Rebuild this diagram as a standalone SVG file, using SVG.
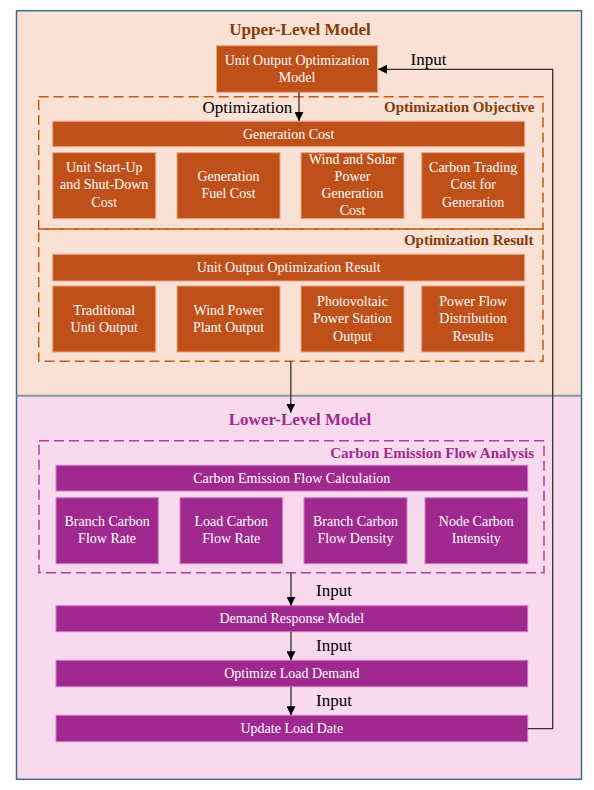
<svg xmlns="http://www.w3.org/2000/svg" width="594" height="790" viewBox="0 0 594 790">
<style>
  text { font-family: "Liberation Serif", "Times New Roman", serif; }
  .ob { fill: #C0501A; stroke: #EBA47F; stroke-width: 1; }
  .pb { fill: #A0298F; stroke: #D07CC3; stroke-width: 1; }
  .bt { fill: #FFFFFF; font-size: 14px; text-anchor: middle; }
  .h1u { fill: #843C0C; font-size: 17px; font-weight: bold; text-anchor: middle; }
  .h1l { fill: #A0298F; font-size: 17px; font-weight: bold; text-anchor: middle; }
  .h2u { fill: #843C0C; font-size: 15px; font-weight: bold; text-anchor: end; }
  .h2l { fill: #A0298F; font-size: 15px; font-weight: bold; text-anchor: end; }
  .lab { fill: #000000; font-size: 17px; }
  .dashu { fill: none; stroke: #C55A11; stroke-width: 1.5; stroke-dasharray: 10 5; }
  .dashl { fill: none; stroke: #B03FA0; stroke-width: 1.5; stroke-dasharray: 10 5; }
  .con { fill: none; stroke: #333333; stroke-width: 1.3; }
</style>
<defs>
  <marker id="ah" viewBox="0 0 10 10" refX="10" refY="5" markerWidth="9" markerHeight="9" markerUnits="userSpaceOnUse" orient="auto">
    <path d="M0,0 L10,5 L0,10 Z" fill="#000000"/>
  </marker>
</defs>

<!-- backgrounds -->
<g id="upper-level">
  <rect x="16.5" y="10.7" width="565" height="385" fill="#FAE1D5"/>
  <text class="h1u" x="300" y="34.5">Upper-Level Model</text>
</g>
<g id="lower-level">
  <rect x="16.5" y="395.7" width="565" height="383.6" fill="#F8D9EE"/>
  <text class="h1l" x="300" y="424.5">Lower-Level Model</text>
</g>
<rect x="16.5" y="10.7" width="565" height="768.6" fill="none" stroke="#3B6E8C" stroke-width="1.5"/>
<line x1="16.5" y1="395.7" x2="581.5" y2="395.7" stroke="#8497B0" stroke-width="2"/>

<!-- upper dashed groups -->
<g id="optimization-objective">
  <rect class="dashu" x="38.7" y="96.7" width="504.3" height="132.3"/>
  <text class="h2u" x="534.5" y="111.5">Optimization Objective</text>
</g>
<g id="optimization-result">
  <rect class="dashu" x="38.7" y="229" width="504.3" height="132.3"/>
  <text class="h2u" x="533.5" y="244.5">Optimization Result</text>
</g>

<g id="unit-output-model">
  <rect class="ob" x="216.5" y="45.7" width="161" height="46.6"/>
  <text class="bt" x="297" y="65">Unit Output Optimization</text>
  <text class="bt" x="297" y="81.7">Model</text>
</g>

<g id="generation-cost">
  <rect class="ob" x="52.7" y="121.3" width="472" height="25.4"/>
  <text class="bt" x="288.7" y="139">Generation Cost</text>
</g>
<g id="startup-cost">
  <rect class="ob" x="52.7" y="152.7" width="103" height="66"/>
  <text class="bt" x="104.2" y="172.3">Unit Start-Up</text>
  <text class="bt" x="104.2" y="189.3">and Shut-Down</text>
  <text class="bt" x="104.2" y="206.5">Cost</text>
</g>
<g id="fuel-cost">
  <rect class="ob" x="177" y="152.7" width="103" height="66"/>
  <text class="bt" x="228.5" y="180.5">Generation</text>
  <text class="bt" x="228.5" y="197.5">Fuel Cost</text>
</g>
<g id="wind-solar-cost">
  <rect class="ob" x="301" y="152.7" width="103" height="66"/>
  <text class="bt" x="352.5" y="163.5">Wind and Solar</text>
  <text class="bt" x="352.5" y="180.5">Power</text>
  <text class="bt" x="352.5" y="197.5">Generation</text>
  <text class="bt" x="352.5" y="214.5">Cost</text>
</g>
<g id="carbon-trading-cost">
  <rect class="ob" x="421.7" y="152.7" width="103" height="66"/>
  <text class="bt" x="473.2" y="172.3">Carbon Trading</text>
  <text class="bt" x="473.2" y="189.3">Cost for</text>
  <text class="bt" x="473.2" y="206.5">Generation</text>
</g>

<g id="unit-output-result">
  <rect class="ob" x="52.7" y="254.3" width="472" height="26.7"/>
  <text class="bt" x="288.7" y="271.7">Unit Output Optimization Result</text>
</g>
<g id="traditional-output">
  <rect class="ob" x="52.7" y="286" width="103" height="66"/>
  <text class="bt" x="104.2" y="315">Traditional</text>
  <text class="bt" x="104.2" y="332.3">Unti Output</text>
</g>
<g id="wind-output">
  <rect class="ob" x="177" y="286" width="103" height="66"/>
  <text class="bt" x="228.5" y="315">Wind Power</text>
  <text class="bt" x="228.5" y="332.3">Plant Output</text>
</g>
<g id="pv-output">
  <rect class="ob" x="301" y="286" width="103" height="66"/>
  <text class="bt" x="352.5" y="306">Photovoltaic</text>
  <text class="bt" x="352.5" y="323.3">Power Station</text>
  <text class="bt" x="352.5" y="340.6">Output</text>
</g>
<g id="power-flow-results">
  <rect class="ob" x="421.7" y="286" width="103" height="66"/>
  <text class="bt" x="473.2" y="306">Power Flow</text>
  <text class="bt" x="473.2" y="323.3">Distribution</text>
  <text class="bt" x="473.2" y="340.6">Results</text>
</g>

<!-- lower -->
<g id="carbon-emission-flow-analysis">
  <rect class="dashl" x="39" y="440.7" width="505" height="132"/>
  <text class="h2l" x="534" y="457.5">Carbon Emission Flow Analysis</text>
</g>
<g id="cef-calculation">
  <rect class="pb" x="56" y="465.3" width="471.7" height="25.7"/>
  <text class="bt" x="291.8" y="482.7">Carbon Emission Flow Calculation</text>
</g>
<g id="branch-flow-rate">
  <rect class="pb" x="56" y="497.7" width="102.3" height="66"/>
  <text class="bt" x="107.1" y="526">Branch Carbon</text>
  <text class="bt" x="107.1" y="543.3">Flow Rate</text>
</g>
<g id="load-flow-rate">
  <rect class="pb" x="180" y="497.7" width="102.6" height="66"/>
  <text class="bt" x="231.3" y="526">Load Carbon</text>
  <text class="bt" x="231.3" y="543.3">Flow Rate</text>
</g>
<g id="branch-flow-density">
  <rect class="pb" x="304" y="497.7" width="103" height="66"/>
  <text class="bt" x="355.5" y="526">Branch Carbon</text>
  <text class="bt" x="355.5" y="543.3">Flow Density</text>
</g>
<g id="node-intensity">
  <rect class="pb" x="425" y="497.7" width="102.7" height="66"/>
  <text class="bt" x="476.3" y="526">Node Carbon</text>
  <text class="bt" x="476.3" y="543.3">Intensity</text>
</g>
<g id="demand-response-model">
  <rect class="pb" x="56" y="605.7" width="471.7" height="26"/>
  <text class="bt" x="291.8" y="622.7">Demand Response Model</text>
</g>
<g id="optimize-load-demand">
  <rect class="pb" x="56" y="660.3" width="471.7" height="26.4"/>
  <text class="bt" x="291.8" y="677.5">Optimize Load Demand</text>
</g>
<g id="update-load-date">
  <rect class="pb" x="56" y="715.3" width="471.7" height="26.4"/>
  <text class="bt" x="291.8" y="732.5">Update Load Date</text>
</g>

<!-- connectors -->
<g id="connectors">
  <line class="con" x1="299" y1="92.3" x2="299" y2="121" marker-end="url(#ah)"/>
  <line class="con" x1="290.8" y1="361.3" x2="290.8" y2="412.7" marker-end="url(#ah)"/>
  <line class="con" x1="291" y1="572.7" x2="291" y2="605.7" marker-end="url(#ah)"/>
  <line class="con" x1="291" y1="631.7" x2="291" y2="660.3" marker-end="url(#ah)"/>
  <line class="con" x1="291" y1="686.7" x2="291" y2="715.3" marker-end="url(#ah)"/>
  <polyline class="con" points="527.7,728.7 552.7,728.7 552.7,69.3 378,69.3" marker-end="url(#ah)"/>
  <text class="lab" x="202.5" y="113.3">Optimization</text>
  <text class="lab" x="410.5" y="65">Input</text>
  <text class="lab" x="316" y="595.7">Input</text>
  <text class="lab" x="316" y="650.7">Input</text>
  <text class="lab" x="316" y="705.7">Input</text>
</g>
</svg>
